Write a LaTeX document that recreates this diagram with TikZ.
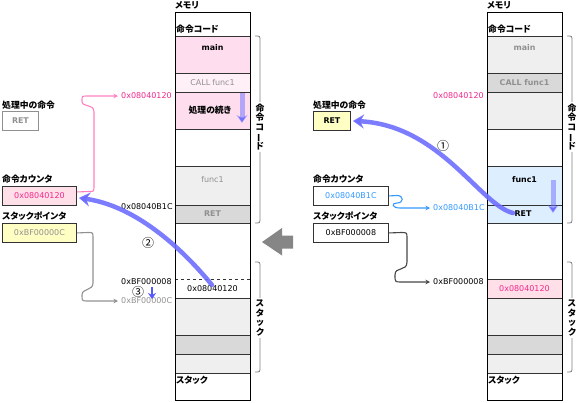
\documentclass[tikz,border=0pt]{standalone}
\usepackage{fontspec}
\setmainfont{DejaVu Sans}
\newfontfamily\jp{Noto Sans CJK JP}[RawFeature=+palt]
\usetikzlibrary{arrows.meta,calc}
\definecolor{pinkA}{HTML}{FDDDEE}
\definecolor{pinkB}{HTML}{FFF0F8}
\definecolor{pinkC}{HTML}{FFE0E8}
\definecolor{pinktxt}{HTML}{F0288C}
\definecolor{pinkln}{HTML}{FF80C0}
\definecolor{lgray}{HTML}{EFEFEF}
\definecolor{mgray}{HTML}{D9D9D9}
\definecolor{lblue}{HTML}{DDEEFF}
\definecolor{yel}{HTML}{FFFFC4}
\definecolor{bluetxt}{HTML}{3399FF}
\definecolor{arcblue}{HTML}{6E6EFF}
\definecolor{gtxt}{HTML}{909090}
\definecolor{boxc}{HTML}{333333}
\definecolor{bracec}{HTML}{808080}
\newcommand{\mycell}[5]{\node[cellbox, fill=#5, minimum height={#4-#3}] (#1) at (#2,#3) {};}
\tikzset{
  cellbox/.style={inner sep=0, outer sep=0, minimum width=75, anchor=north west},
  col/.style={draw=black, line width=0.9, inner sep=0, outer sep=0, minimum width=75, minimum height=388, anchor=north west},
  sep/.style={draw=boxc, line width=0.8},
  lbl/.style={font=\jp\bfseries\fontsize{8.8}{10}\selectfont, inner sep=0, anchor=west},
  txt/.style={font=\fontsize{8}{10}\selectfont, inner sep=0},
  bt/.style={font=\bfseries\fontsize{7.9}{10}\selectfont, inner sep=0},
  jbt/.style={font=\jp\bfseries\fontsize{8.8}{10}\selectfont, inner sep=0},
  reg/.style={draw=boxc, line width=0.9, minimum width=74, minimum height=19, anchor=north west, inner sep=0, font=\fontsize{8}{10}\selectfont},
  addr/.style={font=\fontsize{8}{10}\selectfont, inner xsep=3pt, inner ysep=0, anchor=west},
  ptr/.style={line width=1.1, -{Stealth[length=4.5pt,width=4.5pt]}},
  bigarc/.style={line width=4.5, draw=arcblue, draw opacity=0.9, line cap=round, -{Stealth[length=11pt,width=14pt]}},
  memarr/.style={line width=5, draw=arcblue, draw opacity=0.5, -{Stealth[length=8pt,width=11pt]}},
  brace/.style={draw=bracec, line width=0.8},
  vlab/.style={fill=white, inner xsep=0.5pt, inner ysep=2pt, align=center, font=\jp\bfseries\fontsize{8.8}{9.6}\selectfont},
  circ/.style={font=\jp\fontsize{12}{12}\selectfont, inner sep=0}
}
\begin{document}
\begin{tikzpicture}[x=1pt,y=-1pt]
\useasboundingbox (0,0) rectangle (578,402);
% ================= LEFT MEMORY =================
\mycell{L0}{175}{12}{36}{white}
\mycell{L1}{175}{36}{73}{pinkA}
\mycell{L2}{175}{73}{92}{pinkB}
\mycell{L3}{175}{92}{129}{pinkA}
\mycell{L4}{175}{129}{166}{white}
\mycell{L5}{175}{166}{205}{lgray}
\mycell{L6}{175}{205}{223}{mgray}
\mycell{L7}{175}{223}{279}{white}
\mycell{L8}{175}{279}{298}{white}
\mycell{L9}{175}{298}{335}{lgray}
\mycell{L10}{175}{335}{354}{mgray}
\mycell{L11}{175}{354}{373}{lgray}
\mycell{L12}{175}{373}{400}{white}
\foreach \c in {L1,L2,L3,L4,L5,L6,L7,L9,L10,L11,L12}{\draw[sep] (\c.north west) -- (\c.north east);}
\draw[sep, dashed] (L8.north west) -- (L8.north east);
\node[col] (LM) at (175,12) {};
\node[lbl] (Lmem) at (175,5) {メモリ};
\node[lbl] (Lcode) at (176,29) {命令コード};
\node[bt] (Lmain) at (212.5,48) {main};
\node[txt, text=gtxt] (Lcall) at (212.5,83) {CALL\hspace{2pt}func1};
\node[jbt] (Lcont) at (210,110) {処理の続き};
\node[txt, text=gtxt] (Lf1) at (212.5,180) {func1};
\node[bt, text=gtxt] (Lret) at (212.5,214) {RET};
\node[txt] (Lval) at (212.5,289) {0x08040120};
\node[lbl] (Lstk) at (176,380) {スタック};
\draw[memarr] (242,93) -- (242,123);
% braces left
\draw[brace] (255,36) .. controls (260,36) .. (260,41) -- (260,218) .. controls (260,223) .. (255,223);
\node[vlab] (LbC) at (260,127) {命\\令\\コ\\\rotatebox[origin=c]{90}{ー}\\ド};
\draw[brace] (255,262) .. controls (260,262) .. (260,267) -- (260,367) .. controls (260,372) .. (255,372);
\node[vlab] (LbS) at (260,318) {ス\\タ\\ッ\\ク};
% ================= LEFT REGISTERS =================
\node[lbl] (Lirl) at (2,105) {処理中の命令};
\node[reg, draw=gtxt, minimum width=36, text=gtxt, font=\bfseries\fontsize{7.9}{10}\selectfont] (LIR) at (2,111) {RET};
\node[lbl] (Lpcl) at (2,179) {命令カウンタ};
\node[reg, fill=pinkC, text=pinktxt] (LPC) at (2,186) {0x08040120};
\node[lbl] (Lspl) at (2,216) {スタックポインタ};
\node[reg, fill=yel, text=gtxt] (LSP) at (2,223) {0xBF00000C};
\node[addr, text=pinktxt] (La1) at (118,96) {0x08040120};
\node[addr] (La2) at (118,207) {0x08040B1C};
\node[addr] (La3) at (118,282) {0xBF000008};
\node[addr, text=gtxt] (La4) at (118,301) {0xBF00000C};
\draw[ptr, draw=pinkln] ($(LPC.east)+(0,-4)$) -- (89,191.5) .. controls (94,191.5) .. (94,186) -- (94,112) .. controls (94,103) and (82,108) .. (82,101) .. controls (82,96) .. (87,96) -- (La1.west);
\draw[ptr, draw=gtxt] (LSP.east) -- (88,232.5) .. controls (93,232.5) .. (93,238) -- (93,283) .. controls (93,291) and (82,288) .. (82,295) .. controls (82,301) .. (88,301) -- (La4.west);
\coordinate (s2) at (212,285);
\draw[bigarc] (s2) .. controls (175,240) and (130,205) .. ($(LPC.south east)+(2,-8)$);
\node[circ] (n2) at (148,243) {②};
\node[circ] (n3) at (138,292) {③};
\coordinate (a3s) at (152,287);
\coordinate (a3e) at (152,299);
\draw[line width=2, draw=arcblue!80!blue, -{Stealth[length=6pt,width=8pt]}] (a3s) -- (a3e);
% big middle arrow
\fill[gray!95] (262,242) -- (282,228) -- (282,235.5) -- (293,235.5) -- (293,248.5) -- (282,248.5) -- (282,255.5) -- cycle;
% ================= RIGHT MEMORY =================
\mycell{R0}{487}{12}{36}{white}
\mycell{R1}{487}{36}{73}{lgray}
\mycell{R2}{487}{73}{92}{mgray}
\mycell{R3}{487}{92}{129}{lgray}
\mycell{R4}{487}{129}{166}{white}
\mycell{R5}{487}{166}{205}{lblue}
\mycell{R6}{487}{205}{223}{lblue}
\mycell{R7}{487}{223}{279}{white}
\mycell{R8}{487}{279}{298}{pinkC}
\mycell{R9}{487}{298}{335}{lgray}
\mycell{R10}{487}{335}{354}{mgray}
\mycell{R11}{487}{354}{373}{lgray}
\mycell{R12}{487}{373}{400}{white}
\foreach \c in {R1,R2,R3,R4,R5,R6,R7,R8,R9,R10,R11,R12}{\draw[sep] (\c.north west) -- (\c.north east);}
\node[col] (RM) at (487,12) {};
\node[lbl] (Rmem) at (487,5) {メモリ};
\node[lbl] (Rcode) at (488,29) {命令コード};
\node[bt, text=gtxt] (Rmain) at (524.5,48) {main};
\node[bt, text=gtxt] (Rcall) at (524.5,83) {CALL func1};
\node[bt] (Rf1) at (524.5,180) {func1};
\node[bt] (Rret) at (523,214) {RET};
\node[txt, text=pinktxt] (Rval) at (524.5,289) {0x08040120};
\node[lbl] (Rstk) at (488,380) {スタック};
\draw[memarr] (553,180) -- (553,213);
\draw[brace] (567,36) .. controls (572,36) .. (572,41) -- (572,218) .. controls (572,223) .. (567,223);
\node[vlab] (RbC) at (572,127) {命\\令\\コ\\\rotatebox[origin=c]{90}{ー}\\ド};
\draw[brace] (567,262) .. controls (572,262) .. (572,267) -- (572,367) .. controls (572,372) .. (567,372);
\node[vlab] (RbS) at (572,318) {ス\\タ\\ッ\\ク};
% ================= RIGHT REGISTERS =================
\node[lbl] (Rirl) at (313,105) {処理中の命令};
\node[reg, fill=yel, minimum width=37, font=\bfseries\fontsize{7.9}{10}\selectfont] (RIR) at (313,111) {RET};
\node[lbl] (Rpcl) at (313,179) {命令カウンタ};
\node[reg, minimum width=75, text=bluetxt] (RPC) at (313,186) {0x08040B1C};
\node[lbl] (Rspl) at (313,216) {スタックポインタ};
\node[reg, minimum width=75] (RSP) at (313,223) {0xBF000008};
\node[addr, text=pinktxt] (Ra1) at (430,96) {0x08040120};
\node[addr, text=bluetxt] (Ra2) at (430,208) {0x08040B1C};
\node[addr] (Ra3) at (430,282) {0xBF000008};
\draw[ptr, draw=bluetxt] (RPC.east) -- (397,195.5) .. controls (404,195.5) and (404,203) .. (397,203) .. controls (391,203) and (392,208) .. (400,208) -- (Ra2.west);
\draw[ptr, draw=boxc!90] (RSP.east) -- (401,232.5) .. controls (407,232.5) .. (407,238) -- (407,262) .. controls (407,272) and (395,266) .. (395,275) .. controls (395,282) .. (401,282) -- (Ra3.west);
\coordinate (s1) at (513,213);
\draw[bigarc] (s1) .. controls (480,205) and (440,125) .. ($(RIR.east)+(2,0)$);
\node[circ] (n1) at (443,146) {①};
\end{tikzpicture}
\end{document}
